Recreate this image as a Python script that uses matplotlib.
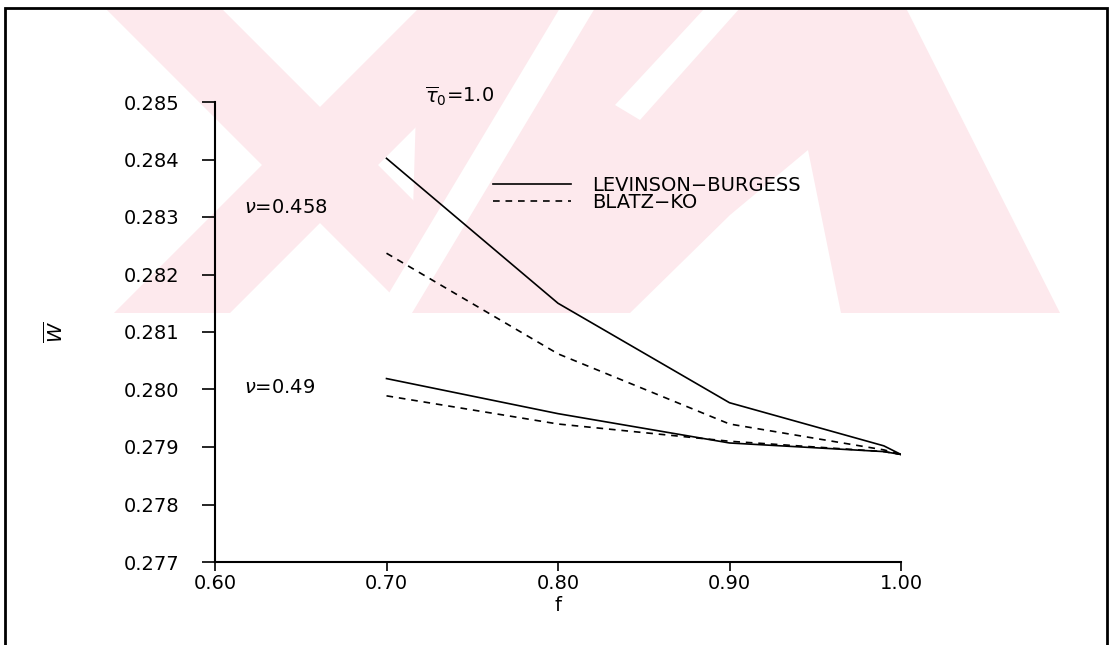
import matplotlib
matplotlib.use("Agg")
import matplotlib.pyplot as plt
from matplotlib.patches import Polygon, Rectangle
from matplotlib.lines import Line2D

# values
f = [0.70, 0.80, 0.90, 0.99, 1.00]
lb_0458 = [0.28402, 0.28150, 0.27977, 0.27902, 0.27887]
bk_0458 = [0.28237, 0.28062, 0.27940, 0.27895, 0.27887]
lb_049 = [0.28019, 0.27958, 0.27907, 0.27892, 0.27887]
bk_049 = [0.27989, 0.27940, 0.27910, 0.27892, 0.27887]

xticks = [0.60, 0.70, 0.80, 0.90, 1.00]
yticks = [0.277, 0.278, 0.279, 0.280, 0.281, 0.282, 0.283, 0.284, 0.285]

plt.rcParams["font.family"] = ["DejaVu Sans"]
plt.rcParams["mathtext.fontset"] = "dejavusans"

W, H = 1110, 645
fig = plt.figure(figsize=(W / 100, H / 100), dpi=100)


def px(pts):
    # pixel points (from top-left) -> figure fractions
    return [(x / W, 1 - y / H) for x, y in pts]


def shape(pts, color):
    fig.add_artist(Polygon(px(pts), closed=True, transform=fig.transFigure,
                           facecolor=color, edgecolor="none", zorder=0))


# faint pink watermark of the scan (rough), white gaps drawn over it
pink = "#fde9ed"
top, bot = 8, 313
# left "X": two crossed bands
cx, cy, s, wh = 320, 165, 1.0, 58
for sign in (1, -1):
    t = cx - sign * s * (cy - top)
    b = cx + sign * s * (bot - cy)
    shape([(t - wh, top), (t + wh, top), (b + wh, bot), (b - wh, bot)], pink)
# right part
shape([(419, top), (906, top), (1060, bot), (410, bot)], pink)
shape([(560, top), (595, top), (412, bot), (377, bot)], "white")
shape([(630, bot), (841, bot), (808, 150), (730, 215)], "white")
shape([(705, top), (740, top), (640, 120), (615, 105)], "white")

# page frame
fig.add_artist(Rectangle((5 / W, -0.05), 1102 / W, 1 - 8 / H + 0.05,
                         transform=fig.transFigure, fill=False,
                         lw=2.0, edgecolor="black", zorder=1))

ax = fig.add_axes([215 / W, 83 / H, 686 / W, 460 / H])
ax.patch.set_alpha(0)

ax.plot(f, lb_0458, color="black", lw=1.2)
ax.plot(f, bk_0458, color="black", lw=1.2, linestyle=(0, (4, 3.5)))
ax.plot(f, lb_049, color="black", lw=1.2)
ax.plot(f, bk_049, color="black", lw=1.2, linestyle=(0, (4, 3.5)))

ax.set_xlim(0.60, 1.00)
ax.set_ylim(0.277, 0.285)
ax.set_xticks(xticks)
ax.set_xticklabels([f"{v:.2f}" for v in xticks])
ax.set_yticks(yticks)
ax.set_yticklabels([f"{v:.3f}" for v in yticks])

for side in ("top", "right"):
    ax.spines[side].set_visible(False)
for side in ("left", "bottom"):
    ax.spines[side].set_linewidth(1.5)

ax.tick_params(axis="y", direction="out", length=9.5, width=1.2, pad=16,
               labelsize=14)
ax.tick_params(axis="x", direction="out", length=6.5, width=1.2, pad=2,
               labelsize=14)

ax.set_xlabel("f", fontsize=14)
ax.xaxis.set_label_coords(0.5, -0.074)
ax.set_ylabel(r"$\overline{W}$", fontsize=14, rotation=90)
ax.yaxis.set_label_coords(-0.217, 0.5)

ax.text(0.7224, 0.28509, r"$\overline{\tau}_0$=1.0", fontsize=14,
        ha="left", va="center")
ax.text(0.6169, 0.28316, r"$\nu$=0.458", fontsize=14, ha="left", va="center")
ax.text(0.6169, 0.28004, r"$\nu$=0.49", fontsize=14, ha="left", va="center")

handles = [Line2D([], [], color="black", lw=1.2),
           Line2D([], [], color="black", lw=1.2, linestyle=(0, (4, 3.5)))]
ax.legend(handles, ["LEVINSON\u2212BURGESS", "BLATZ\u2212KO"],
          loc="upper left", bbox_to_anchor=(0.405, 0.84), frameon=False,
          fontsize=14, handlelength=4.0, handletextpad=1.1,
          labelspacing=-0.1, borderpad=0, borderaxespad=0)

fig.savefig("out.png", dpi=100)
